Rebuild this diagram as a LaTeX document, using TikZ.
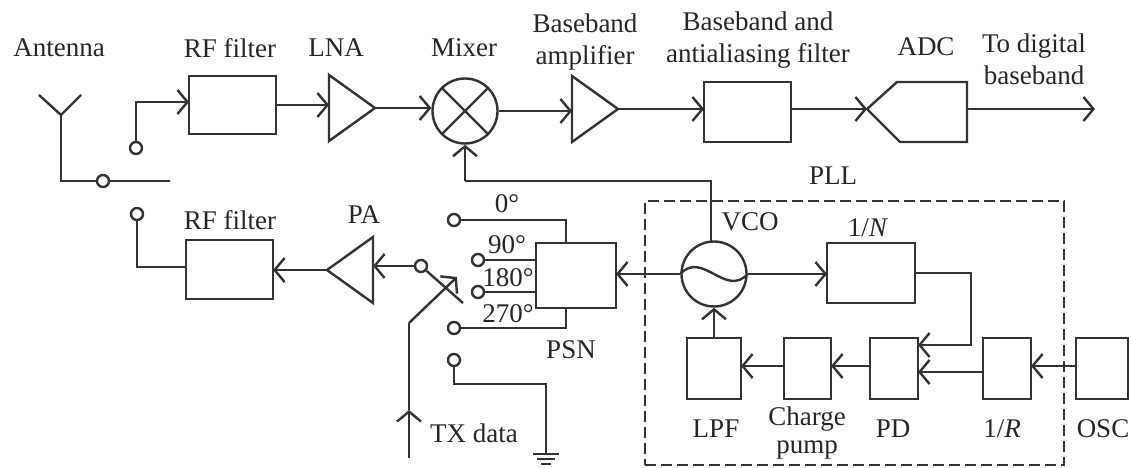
\documentclass[tikz,border=0pt]{standalone}
\usepackage{fontspec}
\setmainfont{Liberation Serif}
\usetikzlibrary{arrows.meta,shapes.geometric}

\begin{document}
\begin{tikzpicture}[x=1pt,y=-1pt]
    \tikzset{
        wire/.style={draw=black!80, line width=2.4pt},
        flow/.style={wire, -{Straight Barb[length=10pt,width=24pt,line width=2.4pt]}},
        block/.style={wire, rectangle, inner sep=0pt, outer sep=0pt},
        contact/.style={wire, circle, fill=white, inner sep=0pt, minimum size=12pt},
        ring/.style={wire, circle, inner sep=0pt, minimum size=65pt},
        amp/.style={wire, isosceles triangle, isosceles triangle stretches, inner sep=0pt, outer sep=0pt, minimum width=66pt, minimum height=46pt},
        txt/.style={font=\fontsize{27}{32}\selectfont, text=black!85, inner sep=0pt, align=center}
    }
    \useasboundingbox (0,0) rectangle (1129,468);

    \coordinate (antl) at (39,95);
    \coordinate (antr) at (81,95);
    \coordinate (antj) at (61,115);
    \coordinate (antb) at (61,181);
    \node[contact] (swrx) at (103,181) {};
    \coordinate (swend) at (170,181);
    \node[contact] (rxc) at (136,148) {};
    \node[contact] (txc) at (137,214) {};

    \draw[wire] (antl) -- (antj) -- (antr);
    \draw[wire] (antj) -- (antb) -- (swrx) -- (swend);

    \node[block, minimum width=87pt, minimum height=58pt] (rfrx) at (232.5,105) {};
    \node[amp, anchor=apex] (lna) at (375,108) {};
    \node[ring] (mixer) at (465,111) {};
    \node[amp, anchor=apex] (bbamp) at (618,109) {};
    \node[block, minimum width=87pt, minimum height=60pt] (bbf) at (747.5,112) {};
    \coordinate (adcin) at (867,109);
    \coordinate (adcout) at (967,109);
    \coordinate (dout) at (1095,109);

    \draw[wire] (mixer.45) -- (mixer.225);
    \draw[wire] (mixer.135) -- (mixer.315);
    \draw[wire] (adcin) -- (897,82) -- (967,82) -- (967,142) -- (900,142) -- cycle;

    \draw[flow] (rxc) |- (rfrx.west |- 0,102);
    \draw[flow] (rfrx.east) -- (rfrx.east -| lna.lower side);
    \draw[flow] (lna.apex) -- (lna.apex -| mixer.west);
    \draw[flow] (mixer.east) -- (mixer.east -| bbamp.lower side);
    \draw[flow] (bbamp.apex) -- (bbamp.apex -| bbf.west);
    \draw[flow] (bbf.east |- adcin) -- (adcin);
    \draw[flow] (adcout) -- (dout);

    \node[block, minimum width=87pt, minimum height=59pt] (rftx) at (229.5,269.5) {};
    \node[amp, anchor=apex, shape border rotate=180] (pa) at (327,270) {};
    \node[contact] (swtx) at (421,266) {};
    \coordinate (swtxend) at (463,303);
    \coordinate (txbot) at (409,458);
    \coordinate (txmid) at (409,410);
    \coordinate (txbend) at (409,323);
    \coordinate (txtip) at (457,277);

    \draw[wire] (txc) |- (rftx.west |- 0,267);
    \draw[flow] (pa.apex) -- (pa.apex -| rftx.east);
    \draw[flow] (swtx) -- (swtx -| pa.lower side);
    \draw[wire] (swtx) -- (swtxend);
    \draw[flow] (txbot) -- (txmid);
    \draw[wire] (txmid) -- (txbend);
    \draw[flow] (txbend) -- (txtip);

    \node[block, minimum width=80pt, minimum height=65pt] (psn) at (576,275.5) {};
    \node[contact] (p0) at (454,220) {};
    \node[contact] (p90) at (478,260) {};
    \node[contact] (p180) at (478,292) {};
    \node[contact] (p270) at (454,328) {};
    \node[contact] (pgnd) at (454,360) {};
    \coordinate (gnd) at (546,454);

    \draw[wire] (p0) -| (psn.north -| 566,0);
    \draw[wire] (p90) -- (p90 -| psn.west);
    \draw[wire] (p180) -- (p180 -| psn.west);
    \draw[wire] (p270) -| (psn.south -| 566,0);
    \draw[wire] (pgnd) |- (500,384) -| (gnd);
    \draw[wire] ([xshift=-13pt]gnd) -- ([xshift=13pt]gnd);
    \draw[wire] ([shift={(-9pt,-5pt)}]gnd) -- ([shift={(9pt,-5pt)}]gnd);
    \draw[wire] ([shift={(-5pt,-10pt)}]gnd) -- ([shift={(5pt,-10pt)}]gnd);

    \node[wire, dash pattern=on 11pt off 5pt, rectangle, inner sep=0pt, minimum width=419pt, minimum height=264pt] (pll) at (854.5,333) {};

    \node[ring] (vco) at (714,274) {};
    \coordinate (vcotap) at (711,241);
    \coordinate (loopturn) at (711,181);
    \coordinate (loopend) at (465,181);
    \node[block, minimum width=88pt, minimum height=60pt] (divn) at (871,273) {};
    \node[block, minimum width=54pt, minimum height=61pt] (lpf) at (714,368.5) {};
    \node[block, minimum width=47pt, minimum height=61pt] (cpump) at (807.5,368.5) {};
    \node[block, minimum width=48pt, minimum height=61pt] (pd) at (894,368.5) {};
    \node[block, minimum width=48pt, minimum height=61pt] (divr) at (1007,368.5) {};
    \node[block, minimum width=52pt, minimum height=61pt] (osc) at (1102,368.5) {};

    \draw[wire] (vco.west) .. controls +(22,-24) and +(-22,24) .. (vco.east);
    \draw[wire] (vcotap) -- (loopturn) -- (loopend);
    \draw[flow] (loopend) -- (mixer.south);
    \draw[flow] (vco.west) -- (vco.west -| psn.east);
    \draw[flow] (vco.east) -- (vco.east -| divn.west);
    \draw[flow] (lpf.north) -- (vco.south);
    \draw[flow] (divn.east) -| (971,345) -- (pd.east |- 0,345);
    \draw[flow] (osc.west |- 0,366) -- (divr.east |- 0,366);
    \draw[flow] (divr.west |- 0,372) -- (pd.east |- 0,372);
    \draw[flow] (pd.west |- 0,366) -- (cpump.east |- 0,366);
    \draw[flow] (cpump.west |- 0,366) -- (lpf.east |- 0,366);

    \node[txt] (tant) at (59,48) {Antenna};
    \node[txt] (trfrx) at (230,48) {RF filter};
    \node[txt] (tlna) at (336,48) {LNA};
    \node[txt] (tmixer) at (464,48) {Mixer};
    \node[txt] (tbbamp) at (585,42) {Baseband\\amplifier};
    \node[txt] (tbbf) at (758,40) {Baseband and\\antialiasing filter};
    \node[txt] (tadc) at (926,47) {ADC};
    \node[txt] (tdig) at (1034,59) {To digital\\baseband};
    \node[txt] (tpll) at (833,176) {PLL};
    \node[txt] (tvco) at (750,222) {VCO};
    \node[txt] (tdivn) at (868,228) {1/\textit{N}};
    \node[txt] (trftx) at (230,220) {RF filter};
    \node[txt] (tpa) at (364,215) {PA};
    \node[txt] (t0) at (507,204) {0°};
    \node[txt] (t90) at (507,245) {90°};
    \node[txt] (t180) at (508,278) {180°};
    \node[txt] (t270) at (508,314) {270°};
    \node[txt] (tpsn) at (571,350) {PSN};
    \node[txt] (ttx) at (474,433) {TX data};
    \node[txt] (tlpf) at (716,429) {LPF};
    \node[txt] (tcpump) at (807,433) {Charge\\[-4pt]pump};
    \node[txt] (tpd) at (893,429) {PD};
    \node[txt] (tdivr) at (1002,429) {1/\textit{R}};
    \node[txt] (tosc) at (1103,429) {OSC};
\end{tikzpicture}
\end{document}
